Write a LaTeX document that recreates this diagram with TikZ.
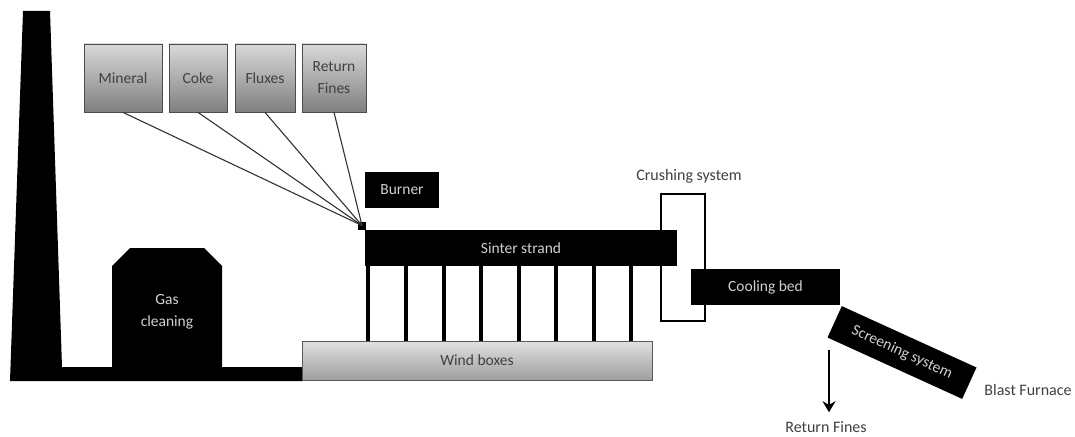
\documentclass[tikz,border=0pt]{standalone}
\usepackage{fontspec}
\setmainfont{Carlito}
\usepackage{graphicx, xcolor}
\usetikzlibrary{calc,arrows.meta}
\definecolor{lighttext}{gray}{0.82}
\definecolor{darktext}{gray}{0.25}
\tikzstyle{unit} = [rectangle, fill=black, text=lighttext, inner sep=0pt, font=\fontsize{15.5}{22}\selectfont, align=center]
\tikzstyle{feed} = [rectangle, minimum height=68pt, inner sep=0pt, draw=black!70, thick, top color=black!15, bottom color=black!50, text=darktext, font=\fontsize{15.5}{22}\selectfont, align=center]
\tikzstyle{label} = [text=darktext, inner sep=0pt, font=\fontsize{16}{22}\selectfont]
\tikzstyle{feedline} = [draw=black!80, line width=1.1pt]
\tikzstyle{leg} = [line width=4pt]
\tikzstyle{arrow} = [line width=2.5pt,-{Stealth[length=11pt,width=13pt]},shorten >=9pt]

\begin{document}
\begin{tikzpicture}[x=1pt, y=-1pt, node distance=75pt]
      \useasboundingbox (0,0) rectangle (1075,436);
      % stack and duct
      \fill (23,11)--(50,11)--(62,367)--(303,367)--(303,381)--(10,381)--cycle;
      \fill (130,248)--(204,248)--(222,266)--(222,367)--(112,367)--(112,266)--cycle;
      \node (gas)[text=lighttext, inner sep=0pt, font=\fontsize{15.5}{22}\selectfont, align=center] at (167,312) {Gas\\cleaning};
      % crushing frame goes behind the strand
      \node (crush)[rectangle, draw=black, line width=2pt, minimum width=44pt, minimum height=127pt, inner sep=0pt] at (682.5,257.5) {};
      \node (strand)[unit, minimum width=312pt, minimum height=36pt] at (521,248) {Sinter strand};
      \node (burner)[unit, minimum width=74pt, minimum height=36pt] at (402,190) {Burner};
      \node (wind)[feed, minimum width=350pt, minimum height=39pt, top color=black!12, bottom color=black!38, draw=black!65] at (477,360.5) {Wind boxes};
      \node (cool)[unit, minimum width=149pt, minimum height=36pt, right of=strand, xshift=169.5pt, yshift=-39pt] {Cooling bed};
      \node (screen)[unit, minimum width=148pt, minimum height=34.5pt, rotate=-24.5] at (902,352.5) {Screening system};
      % feed boxes
      \node (mineral)[feed, minimum width=78pt] at (123,78) {Mineral};
      \node (coke)[feed, minimum width=58pt, right of=mineral] {Coke};
      \node (fluxes)[feed, minimum width=60pt, right of=coke, xshift=-8pt] {Fluxes};
      \node (return)[feed, minimum width=64pt, right of=fluxes, xshift=-6pt] {Return\\Fines};
      \node (hopper)[rectangle, fill=black, minimum size=8pt, inner sep=0pt] at (362,225.5) {};
      \node (crushlabel)[label] at (689,176) {Crushing system};
      \node (finesout)[label] at (826,427) {Return Fines};
      \node (furnace)[label] at (1028,390) {Blast Furnace};
      \coordinate (sieve) at (829,350);
      \draw [feedline](mineral.south)--(hopper.center);
      \draw [feedline](coke.south)--(hopper.center);
      \draw [feedline](fluxes.south)--(hopper.center);
      \draw [feedline](return.south)--(hopper.center);
      \foreach \x in {368,406,444,481,519,556,594,631}
        \draw [leg](strand.south -| \x,0)--(wind.north -| \x,0);
      \draw [arrow](sieve)--(finesout.north -| sieve);
    \end{tikzpicture}
\end{document}
